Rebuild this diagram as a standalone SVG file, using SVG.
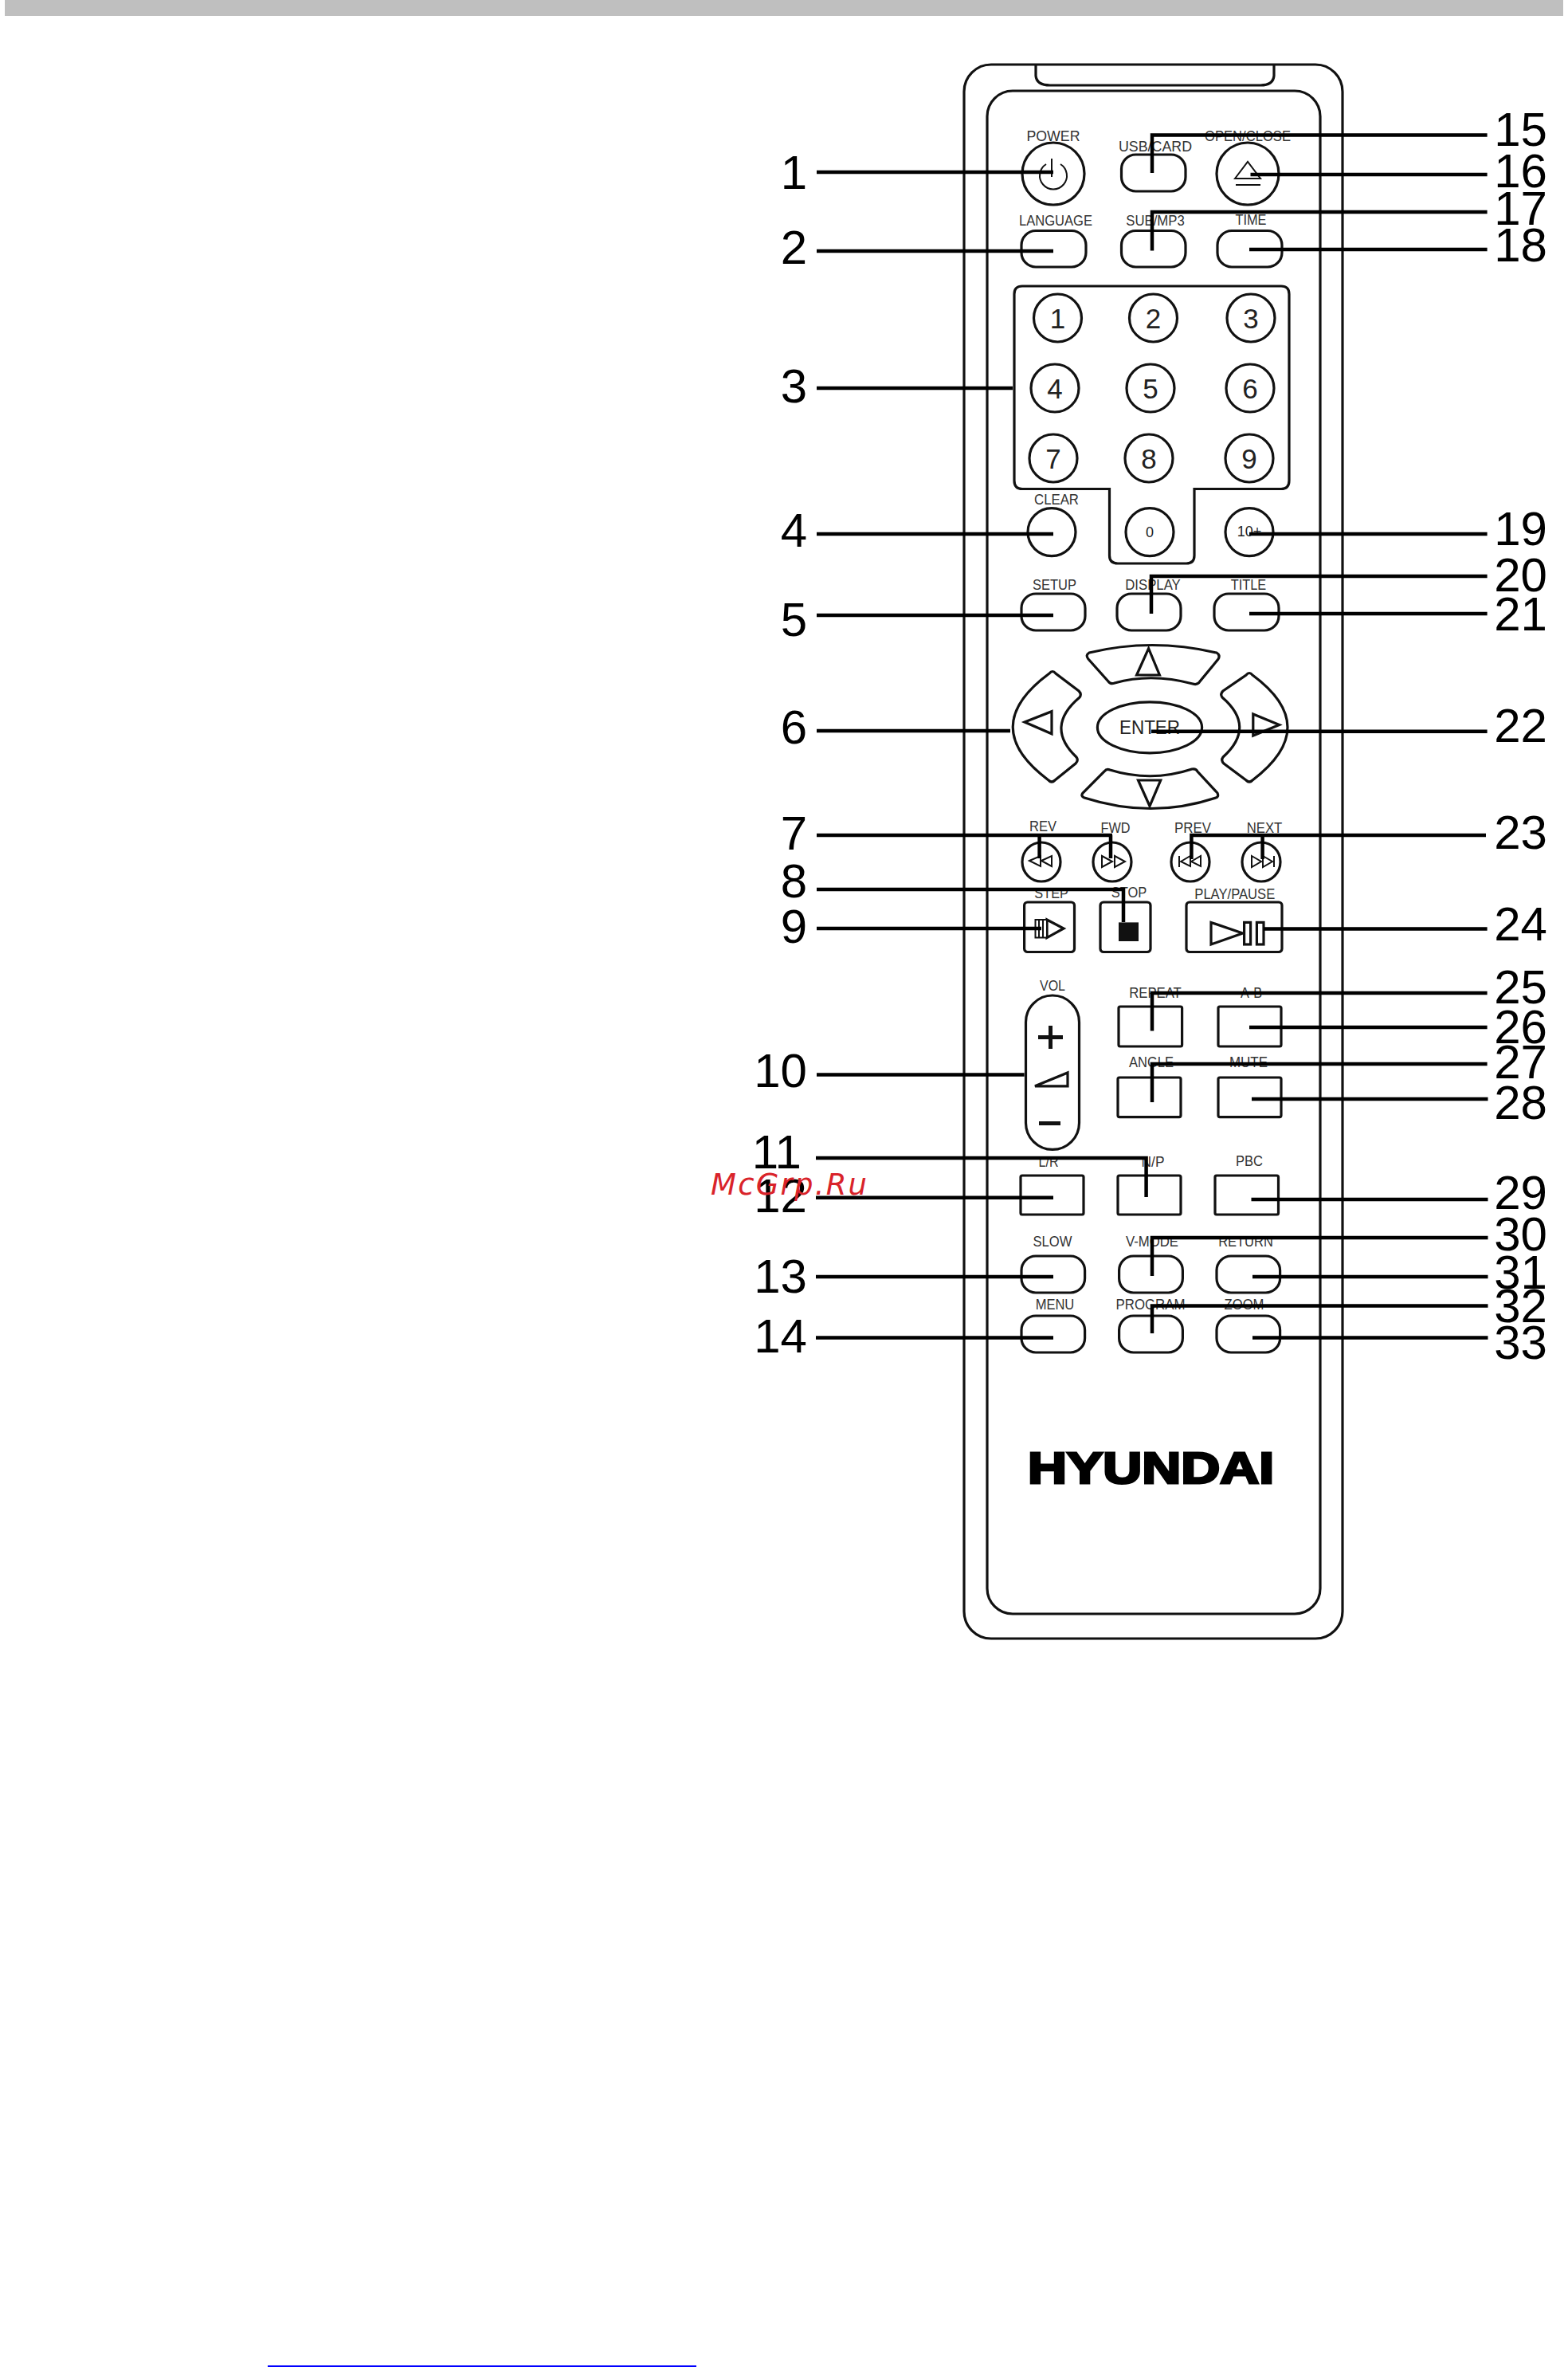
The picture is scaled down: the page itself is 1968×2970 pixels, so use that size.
<svg xmlns="http://www.w3.org/2000/svg" width="1968" height="2970" viewBox="0 0 1968 2970">
<style>
.o{fill:none;stroke:#111;stroke-width:3.2}
.b{fill:#fff;stroke:#111;stroke-width:3.2}
.i{fill:#fff;stroke:#111;stroke-width:2}
.k{fill:#111;stroke:none}
.c{fill:none;stroke:#000;stroke-width:4.5;stroke-linejoin:miter}
text{font-family:"Liberation Sans",Arial,sans-serif;fill:#222}
.l{font-size:18px;text-anchor:middle;dominant-baseline:central;fill:#333}
.d{font-size:35px;text-anchor:middle;dominant-baseline:central}
.n{font-size:60px;fill:#000;text-anchor:end}
</style>
<rect id="top-bar" x="6" y="0" width="1956" height="20" fill="#bfbfbf"/>
<rect id="bottom-line" x="336" y="2968" width="538" height="2" fill="#0000ff"/>
<g id="remote-body">
<rect class="o" x="1210" y="81" width="475" height="1975" rx="34"/>
<path class="o" d="M1300 81V95Q1301 107 1318 107H1582Q1598 107 1599 95V81" fill="#fff"/>
<rect class="o" x="1239" y="114" width="418" height="1911" rx="32"/>
</g>
<g id="btn-power"><circle class="b" cx="1322" cy="218" r="39"/><path class="i" style="fill:none" d="M1313 206A17 17 0 1 0 1331 206M1320 199V222"/><text class="l" x="1322" y="171" textLength="67" lengthAdjust="spacingAndGlyphs">POWER</text></g>
<g id="btn-usb"><rect class="b" x="1407.5" y="194" width="80.500" height="46" rx="18"/><text class="l" x="1450" y="184" textLength="92" lengthAdjust="spacingAndGlyphs">USB/CARD</text></g>
<g id="btn-open"><circle class="b" cx="1566" cy="218" r="39"/><path class="i" style="fill:none" d="M1550 224L1566 203L1582 224ZM1551 232H1582"/><text class="l" x="1566" y="171" textLength="108" lengthAdjust="spacingAndGlyphs">OPEN/CLOSE</text></g>
<g id="btn-language"><rect class="b" x="1282" y="289.500" width="81" height="45.500" rx="18"/><text class="l" x="1325" y="276.500" textLength="92" lengthAdjust="spacingAndGlyphs">LANGUAGE</text></g>
<g id="btn-sub"><rect class="b" x="1407.5" y="289.500" width="80.500" height="45.500" rx="18"/><text class="l" x="1450" y="276.500" textLength="73.500" lengthAdjust="spacingAndGlyphs">SUB/MP3</text></g>
<g id="btn-time"><rect class="b" x="1528" y="289.500" width="81" height="45.500" rx="18"/><text class="l" x="1570" y="276" textLength="39" lengthAdjust="spacingAndGlyphs">TIME</text></g>
<g id="keypad"><path class="o" d="M1283 359H1608Q1618 359 1618 369V603Q1618 613.500 1608 613.500H1499V697Q1499 707 1489 707H1403Q1392.500 707 1392.500 697V613.500H1283Q1273 613.500 1273 603V369Q1273 359 1283 359Z"/></g>
<g id="key-1"><circle class="b" cx="1327.500" cy="399" r="30"/><text class="d" x="1327.500" y="399">1</text></g>
<g id="key-2"><circle class="b" cx="1447.500" cy="399" r="30"/><text class="d" x="1447.500" y="399">2</text></g>
<g id="key-3"><circle class="b" cx="1570" cy="399" r="30"/><text class="d" x="1570" y="399">3</text></g>
<g id="key-4"><circle class="b" cx="1324" cy="487" r="30"/><text class="d" x="1324" y="487">4</text></g>
<g id="key-5"><circle class="b" cx="1444" cy="487" r="30"/><text class="d" x="1444" y="487">5</text></g>
<g id="key-6"><circle class="b" cx="1569" cy="487" r="30"/><text class="d" x="1569" y="487">6</text></g>
<g id="key-7"><circle class="b" cx="1322" cy="575" r="30"/><text class="d" x="1322" y="575">7</text></g>
<g id="key-8"><circle class="b" cx="1442" cy="575" r="30"/><text class="d" x="1442" y="575">8</text></g>
<g id="key-9"><circle class="b" cx="1568" cy="575" r="30"/><text class="d" x="1568" y="575">9</text></g>
<g id="key-0"><circle class="b" cx="1443" cy="667.600" r="30"/><text class="d" x="1443" y="668" style="font-size:18px">0</text></g>
<g id="key-10"><circle class="b" cx="1568" cy="667.600" r="30"/><text class="d" x="1568" y="667" style="font-size:18px">10+</text></g>
<g id="btn-clear"><circle class="b" cx="1320" cy="667.600" r="30"/><text class="l" x="1326" y="627" textLength="56" lengthAdjust="spacingAndGlyphs">CLEAR</text></g>
<g id="btn-setup"><rect class="b" x="1282" y="745" width="80" height="46" rx="18"/><text class="l" x="1323.500" y="734" textLength="55" lengthAdjust="spacingAndGlyphs">SETUP</text></g>
<g id="btn-display"><rect class="b" x="1402" y="745" width="80" height="46" rx="18"/><text class="l" x="1447" y="734" textLength="69.500" lengthAdjust="spacingAndGlyphs">DISPLAY</text></g>
<g id="btn-title"><rect class="b" x="1524" y="745" width="81" height="46" rx="18"/><text class="l" x="1567" y="734" textLength="44.500" lengthAdjust="spacingAndGlyphs">TITLE</text></g>
<g id="dpad-up"><path class="b" d="M1367 819Q1445 800 1527 819Q1532 822 1529 827L1506 855Q1503 860 1497 858Q1445 844 1399 857Q1394 859 1391 855L1366 827Q1362 822 1367 819Z"/><path class="b" d="M1441.600 813.700L1426.600 847H1455.400Z"/></g>
<g id="dpad-down"><path class="b" d="M1393 966Q1445 982 1496 965Q1501 964 1503 968L1528 995Q1530 1000 1526 1001Q1445 1028 1361 1001Q1356 999 1359 995L1386 968Q1389 964 1393 966Z"/><path class="b" d="M1428.500 979H1456.700L1443 1011.400Z"/></g>
<g id="dpad-left"><path class="b" d="M1317 845Q1321 840 1325 845L1354 867Q1358 871 1355 875Q1311 912 1351 950Q1354 954 1350 958L1324 979Q1320 983 1316 979Q1226 912 1317 845Z"/><path class="b" d="M1286 906L1320 892.700V920.800Z"/></g>
<g id="dpad-right"><path class="b" d="M1572 847Q1568 842 1564 847L1535 867Q1531 871 1534 875Q1577 912 1535 950Q1532 954 1536 958L1564 979Q1568 983 1572 979Q1660 912 1572 847Z"/><path class="b" d="M1572.800 896L1605.600 909.600L1572.800 923Z"/></g>
<g id="btn-enter"><ellipse class="b" cx="1443" cy="912.800" rx="65.600" ry="32"/><text class="d" x="1443" y="912" style="font-size:24px" textLength="76" lengthAdjust="spacingAndGlyphs">ENTER</text></g>
<g id="btn-rev"><ellipse class="b" cx="1307" cy="1081.500" rx="24" ry="24.500"/><path class="i" d="M1292 1080L1306 1074V1087ZM1307 1080L1320 1074V1087Z"/><text class="l" x="1309" y="1037" textLength="34" lengthAdjust="spacingAndGlyphs">REV</text></g>
<g id="btn-fwd"><ellipse class="b" cx="1396" cy="1081.500" rx="24" ry="24.500"/><path class="i" d="M1383 1074L1396 1081L1383 1088ZM1399 1074L1412 1081L1399 1088Z"/><text class="l" x="1400" y="1039" textLength="37" lengthAdjust="spacingAndGlyphs">FWD</text></g>
<g id="btn-prev"><ellipse class="b" cx="1494" cy="1081.500" rx="24" ry="24.500"/><path class="i" d="M1480 1074V1088M1482 1081L1494 1074V1087ZM1495 1081L1507 1074V1087Z"/><text class="l" x="1497" y="1039" textLength="46" lengthAdjust="spacingAndGlyphs">PREV</text></g>
<g id="btn-next"><ellipse class="b" cx="1583" cy="1081.500" rx="24" ry="24.500"/><path class="i" d="M1571 1074L1583 1081L1571 1088ZM1585 1074L1597 1081L1585 1088ZM1599 1074V1088"/><text class="l" x="1587" y="1039" textLength="44.600" lengthAdjust="spacingAndGlyphs">NEXT</text></g>
<g id="btn-step"><rect class="b" x="1285.600" y="1132" width="62.900" height="62.500" rx="4"/><path class="b" d="M1314 1154L1335 1165L1314 1176.600Z"/><path class="i" d="M1299.500 1154H1314V1176.600H1299.500ZM1304 1154V1176.600M1309 1154V1176.600"/><text class="l" x="1319.600" y="1121" textLength="42.600" lengthAdjust="spacingAndGlyphs">STEP</text></g>
<g id="btn-stop"><rect class="b" x="1381" y="1132" width="63" height="62.500" rx="4"/><rect class="k" x="1404" y="1157.400" width="25" height="23.600"/><text class="l" x="1417" y="1120" textLength="44.600" lengthAdjust="spacingAndGlyphs">STOP</text></g>
<g id="btn-play"><rect class="b" x="1489" y="1132" width="120" height="62.500" rx="4"/><path class="b" d="M1520 1157.400L1559.700 1171L1520 1185Z"/><rect class="b" x="1561.600" y="1157.400" width="8" height="27.600"/><rect class="b" x="1577.400" y="1157.400" width="8.600" height="27.600"/><text class="l" x="1549.800" y="1122" textLength="101" lengthAdjust="spacingAndGlyphs">PLAY/PAUSE</text></g>
<g id="btn-vol"><rect class="b" x="1287.500" y="1249" width="67" height="193.400" rx="33.500"/><rect class="k" x="1303" y="1299" width="31" height="5"/><rect class="k" x="1316" y="1287" width="5" height="29"/><rect class="k" x="1304" y="1407" width="27" height="5"/><path class="b" d="M1299 1362.800L1340 1346V1362.800Z"/><text class="l" x="1321" y="1237" textLength="32" lengthAdjust="spacingAndGlyphs">VOL</text></g>
<g id="btn-repeat"><rect class="b" x="1404" y="1263" width="79.600" height="50" rx="2"/><text class="l" x="1450" y="1246" textLength="65.600" lengthAdjust="spacingAndGlyphs">REPEAT</text></g>
<g id="btn-ab"><rect class="b" x="1529" y="1263" width="79" height="50" rx="2"/><text class="l" x="1570.500" y="1246" textLength="27" lengthAdjust="spacingAndGlyphs">A-B</text></g>
<g id="btn-angle"><rect class="b" x="1403" y="1352" width="79" height="49.600" rx="2"/><text class="l" x="1445" y="1333" textLength="56" lengthAdjust="spacingAndGlyphs">ANGLE</text></g>
<g id="btn-mute"><rect class="b" x="1529" y="1352" width="79" height="49.600" rx="2"/><text class="l" x="1567" y="1333" textLength="48" lengthAdjust="spacingAndGlyphs">MUTE</text></g>
<g id="btn-lr"><rect class="b" x="1281" y="1475" width="79" height="49" rx="2"/><text class="l" x="1316" y="1458" textLength="25" lengthAdjust="spacingAndGlyphs">L/R</text></g>
<g id="btn-np"><rect class="b" x="1403" y="1475" width="79" height="49" rx="2"/><text class="l" x="1447" y="1458" textLength="29" lengthAdjust="spacingAndGlyphs">N/P</text></g>
<g id="btn-pbc"><rect class="b" x="1525" y="1475" width="79.500" height="49" rx="2"/><text class="l" x="1568" y="1457" textLength="34" lengthAdjust="spacingAndGlyphs">PBC</text></g>
<g id="btn-slow"><rect class="b" x="1282" y="1576" width="79.600" height="46" rx="18"/><text class="l" x="1321" y="1557.600" textLength="49" lengthAdjust="spacingAndGlyphs">SLOW</text></g>
<g id="btn-vmode"><rect class="b" x="1404.600" y="1576" width="79.800" height="46" rx="18"/><text class="l" x="1446" y="1557.600" textLength="66" lengthAdjust="spacingAndGlyphs">V-MODE</text></g>
<g id="btn-return"><rect class="b" x="1527" y="1576" width="79.600" height="46" rx="18"/><text class="l" x="1563.500" y="1558" textLength="68.700" lengthAdjust="spacingAndGlyphs">RETURN</text></g>
<g id="btn-menu"><rect class="b" x="1282" y="1651" width="79.600" height="46" rx="18"/><text class="l" x="1324" y="1637" textLength="48.600" lengthAdjust="spacingAndGlyphs">MENU</text></g>
<g id="btn-program"><rect class="b" x="1404.600" y="1651" width="79.800" height="46" rx="18"/><text class="l" x="1444" y="1637" textLength="87" lengthAdjust="spacingAndGlyphs">PROGRAM</text></g>
<g id="btn-zoom"><rect class="b" x="1527" y="1651" width="79.600" height="46" rx="18"/><text class="l" x="1561.500" y="1637" textLength="50" lengthAdjust="spacingAndGlyphs">ZOOM</text></g>
<text id="logo" x="1290" y="1860.500" textLength="309" lengthAdjust="spacingAndGlyphs" style="font-size:56px;font-weight:bold;fill:#000;stroke:#000;stroke-width:3">HYUNDAI</text>
<g id="connectors" class="c">
<path d="M1025 216H1322M1025 315H1322M1025 487H1271M1025 670H1322M1025 772H1322M1025 917H1268"/>
<path d="M1025 1048H1396M1304.600 1048V1077M1394 1048V1077"/>
<path d="M1025 1116H1410V1157M1025 1165H1307M1025 1348.500H1285.600"/>
<path d="M1024 1453H1438.600V1502M1024 1502.700H1322M1024 1602H1322M1024 1678.600H1322"/>
<path d="M1866.600 169.400H1446V217M1866.600 219H1569.500M1866.600 266H1446V314.500M1866.600 313H1568M1866.600 670H1568"/>
<path d="M1866.600 723H1445V770M1866.600 770H1568M1866.600 917.700H1445"/>
<path d="M1865 1048H1495.400V1078M1584.600 1048V1078"/>
<path d="M1866.600 1165.400H1586M1866.600 1246H1446V1293.600M1866.600 1289H1568M1866.600 1335H1446V1383M1867.500 1379H1571"/>
<path d="M1867.500 1505H1570.500M1867.500 1553H1446V1601M1867.500 1602H1572M1867.500 1638.400H1446V1673M1867.500 1678.600H1572"/>
</g>
<g id="numbers-left">
<text class="n" x="1013" y="237">1</text>
<text class="n" x="1013" y="331">2</text>
<text class="n" x="1013" y="505">3</text>
<text class="n" x="1013" y="686">4</text>
<text class="n" x="1013" y="798">5</text>
<text class="n" x="1013" y="933">6</text>
<text class="n" x="1013" y="1066">7</text>
<text class="n" x="1013" y="1126">8</text>
<text class="n" x="1013" y="1183">9</text>
<text class="n" x="1013" y="1364">10</text>
<text class="n" x="1006" y="1466">11</text>
<text class="n" x="1013" y="1521">12</text>
<text class="n" x="1013" y="1622">13</text>
<text class="n" x="1013" y="1697">14</text>
</g>
<g id="numbers-right">
<text class="n" x="1942" y="183">15</text>
<text class="n" x="1942" y="235">16</text>
<text class="n" x="1942" y="282">17</text>
<text class="n" x="1942" y="328">18</text>
<text class="n" x="1942" y="684">19</text>
<text class="n" x="1942" y="742">20</text>
<text class="n" x="1942" y="791">21</text>
<text class="n" x="1942" y="931">22</text>
<text class="n" x="1942" y="1065">23</text>
<text class="n" x="1942" y="1180">24</text>
<text class="n" x="1942" y="1259">25</text>
<text class="n" x="1942" y="1309">26</text>
<text class="n" x="1942" y="1353">27</text>
<text class="n" x="1942" y="1404">28</text>
<text class="n" x="1942" y="1517">29</text>
<text class="n" x="1942" y="1569">30</text>
<text class="n" x="1942" y="1616.500">31</text>
<text class="n" x="1942" y="1659">32</text>
<text class="n" x="1942" y="1704.500">33</text>
</g>
<text id="watermark" x="892" y="1499" textLength="196" style="font-family:'DejaVu Sans',sans-serif;font-style:oblique;font-size:37px;fill:#d9232a">McGrp.Ru</text>
</svg>
